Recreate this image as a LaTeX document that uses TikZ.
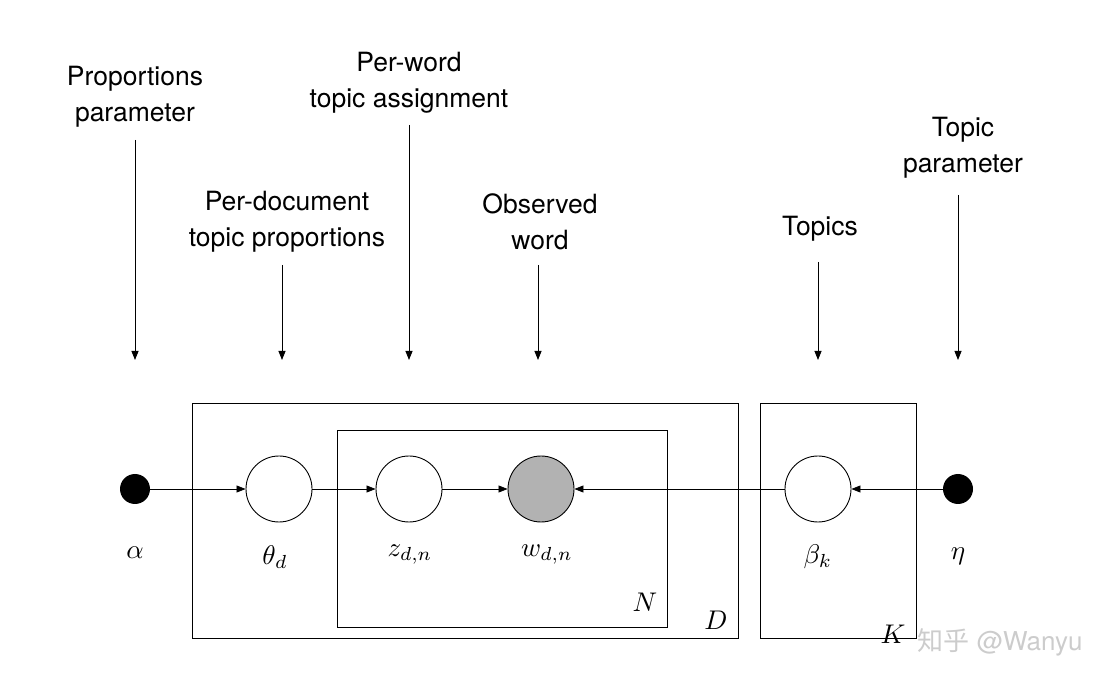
\documentclass[tikz,border=0pt]{standalone}
\usepackage{fontspec}
\setmainfont{TeX Gyre Heros}
\newfontfamily\cjk{Noto Sans CJK SC}
\usetikzlibrary{arrows.meta}
\newcommand\mylab[1]{\scalebox{2.7}{$#1$}}
\begin{document}
\begin{tikzpicture}[x=1pt,y=-1pt,
 var/.style={circle,draw,line width=0.9pt,minimum size=66pt,inner sep=0},
 dot/.style={circle,fill=black,minimum size=30pt,inner sep=0},
 plate/.style={draw,line width=0.9pt},
 edge/.style={-{Triangle[length=9pt,width=7pt]},line width=0.8pt},
 lab/.style={font=\fontsize{26.5}{36}\selectfont,align=center},
 ml/.style={inner sep=0}]
\useasboundingbox (0,0) rectangle (1096,692);
\draw[plate] (192,403) rectangle (738,638);
\draw[plate] (337,430) rectangle (667,627);
\draw[plate] (760,403) rectangle (916,638);
\node[dot] (a) at (135,489) {};
\node[var] (t) at (279,489) {};
\node[var] (z) at (409,489) {};
\node[var,fill=black!30] (w) at (541,489) {};
\node[var] (b) at (818,489) {};
\node[dot] (e) at (958,489) {};
\draw[edge] (a) -- (t);
\draw[edge] (t) -- (z);
\draw[edge] (z) -- (w);
\draw[edge] (b) -- (w);
\draw[edge] (e) -- (b);
\node[ml] (la) at (135,553) {\mylab{\alpha}};
\node[ml] (lt) at (275,557) {\mylab{\theta_d}};
\node[ml] (lz) at (410,555) {\mylab{z_{d,n}}};
\node[ml] (lw) at (547,555) {\mylab{w_{d,n}}};
\node[ml] (lb) at (818,557) {\mylab{\beta_k}};
\node[ml] (le) at (958,556) {\mylab{\eta}};
\node[ml] (pN) at (645,602) {\mylab{N}};
\node[ml] (pD) at (716,620) {\mylab{D}};
\node[ml] (pK) at (893,634) {\mylab{K}};
\node[lab] (t1) at (135,97) {Proportions\\parameter};
\node[lab] (t2) at (287,222) {Per-document\\topic proportions};
\node[lab] (t3) at (409,83) {Per-word\\topic assignment};
\node[lab] (t4) at (540,222) {Observed\\word};
\node[lab] (t5) at (820,229) {Topics};
\node[lab] (t6) at (963,148) {Topic\\parameter};
\coordinate (e1) at (135,360); \coordinate (e2) at (282,360);
\coordinate (e3) at (409,360); \coordinate (e4) at (538,360);
\coordinate (e5) at (818,360); \coordinate (e6) at (958,360);
\draw[edge] (135,140) -- (e1);
\draw[edge] (282,265) -- (e2);
\draw[edge] (409,125) -- (e3);
\draw[edge] (538,265) -- (e4);
\draw[edge] (818,262) -- (e5);
\draw[edge] (958,195) -- (e6);
\node[text=black!20,font=\fontsize{26}{30}\selectfont] (wm) at (1000,642) {{\cjk 知乎} @Wanyu};
\end{tikzpicture}
\end{document}
